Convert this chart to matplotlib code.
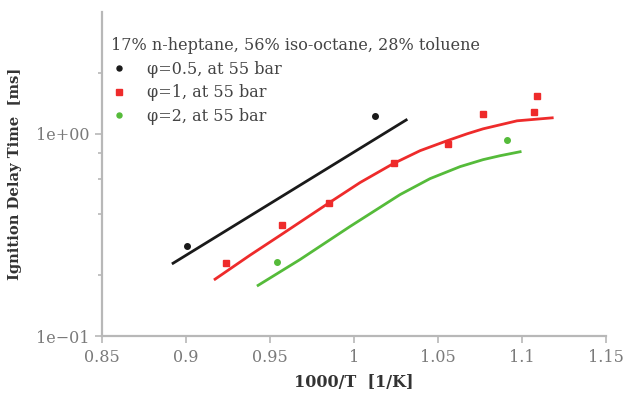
import matplotlib
matplotlib.use("Agg")
import matplotlib.pyplot as plt
from matplotlib.ticker import FixedLocator, NullFormatter, FixedFormatter

# ---- data ----
black_pts_x = [0.9006, 1.0125]
black_pts_y = [0.28, 1.23]
black_line_x = [0.8923, 1.031]
black_line_y = [0.229, 1.17]

red_pts_x = [0.9238, 0.957, 0.985, 1.0238, 1.056, 1.0768, 1.107, 1.109]
red_pts_y = [0.229, 0.352, 0.457, 0.72, 0.893, 1.255, 1.28, 1.54]
red_line_x = [0.9173, 0.9381, 0.956, 0.9845, 1.0036, 1.0232, 1.0393, 1.0554, 1.0673, 1.0768, 1.097, 1.1179]
red_line_y = [0.191, 0.251, 0.3145, 0.452, 0.574, 0.711, 0.825, 0.924, 1.0, 1.058, 1.159, 1.199]

green_pts_x = [0.9542, 1.0911]
green_pts_y = [0.232, 0.934]
green_line_x = [0.9429, 0.9679, 0.9976, 1.0274, 1.0452, 1.0631, 1.0768, 1.0869, 1.0988]
green_line_y = [0.178, 0.239, 0.348, 0.5005, 0.600, 0.688, 0.745, 0.779, 0.815]

legend_title = "17% n-heptane, 56% iso-octane, 28% toluene"
labels = ["\u03c6=0.5, at 55 bar", "\u03c6=1, at 55 bar", "\u03c6=2, at 55 bar"]
xticks = [0.85, 0.9, 0.95, 1.0, 1.05, 1.1, 1.15]
xticklabels = ["0.85", "0.9", "0.95", "1", "1.05", "1.1", "1.15"]
yticks = [0.1, 1.0]
yticklabels = ["1e\u221201", "1e+00"]
yminor = [0.2, 0.4, 0.6, 0.8, 2.0]

BLACK = "#1a1a1a"
RED = "#ee2b2b"
GREEN = "#55bb3a"
GRAY = "#b8b8b8"
TXT = "#7a7a7a"

plt.rcParams['font.family'] = ['DejaVu Serif']

fig = plt.figure(figsize=(6.35, 3.94), dpi=100)
ax = fig.add_axes([0.1606, 0.1472, 0.794, 0.8223])

ax.plot(black_line_x, black_line_y, color=BLACK, lw=2)
ax.plot(red_line_x, red_line_y, color=RED, lw=2, solid_joinstyle='round')
ax.plot(green_line_x, green_line_y, color=GREEN, lw=2, solid_joinstyle='round')

h1, = ax.plot(black_pts_x, black_pts_y, 'o', color=BLACK, ms=4, ls='none', label=labels[0])
h2, = ax.plot(red_pts_x, red_pts_y, 's', color=RED, ms=4.5, ls='none', label=labels[1])
h3, = ax.plot(green_pts_x, green_pts_y, 'o', color=GREEN, ms=4, ls='none', label=labels[2])

ax.set_yscale('log')
ax.set_xlim(0.85, 1.15)
ax.set_ylim(0.1, 4.0)

ax.xaxis.set_major_locator(FixedLocator(xticks))
ax.xaxis.set_major_formatter(FixedFormatter(xticklabels))
ax.yaxis.set_major_locator(FixedLocator(yticks))
ax.yaxis.set_major_formatter(FixedFormatter(yticklabels))
ax.yaxis.set_minor_locator(FixedLocator(yminor))
ax.yaxis.set_minor_formatter(NullFormatter())
ax.xaxis.set_minor_locator(FixedLocator([]))

for s in ['top', 'right']:
    ax.spines[s].set_visible(False)
for s in ['left', 'bottom']:
    ax.spines[s].set_color(GRAY)
    ax.spines[s].set_linewidth(1.6)

ax.tick_params(axis='both', which='major', color=GRAY, length=5, width=1.2,
               labelcolor=TXT, labelsize=11.5, pad=4)
ax.tick_params(axis='y', which='minor', color=GRAY, length=3, width=1.2)

ax.set_xlabel("1000/T  [1/K]", fontsize=11.5, fontweight='bold', color='#333333', labelpad=6)
ax.set_ylabel("Ignition Delay Time  [ms]", fontsize=10.6, fontweight='bold', color='#333333', labelpad=10)

leg = ax.legend(handles=[h1, h2, h3], title=legend_title, loc='upper left',
                bbox_to_anchor=(-0.005, 0.958), frameon=False, alignment='left',
                fontsize=11.5, title_fontsize=11.5, handletextpad=1.3,
                labelspacing=0.42, borderaxespad=0.3, handlelength=1.0,
                markerscale=0.9)
for t in leg.get_texts():
    t.set_color('#444444')
leg.get_title().set_color('#444444')

fig.savefig("out.png", dpi=100)
